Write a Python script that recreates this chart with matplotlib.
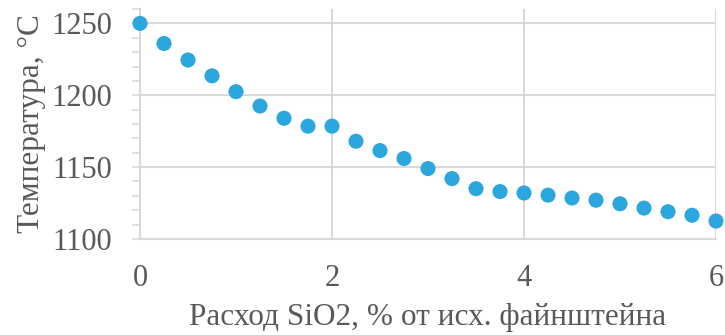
import matplotlib.pyplot as plt
from matplotlib.ticker import MultipleLocator

# data
sio2 = [0, 0.25, 0.5, 0.75, 1, 1.25, 1.5, 1.75, 2, 2.25, 2.5, 2.75, 3,
        3.25, 3.5, 3.75, 4, 4.25, 4.5, 4.75, 5, 5.25, 5.5, 5.75, 6]
temp = [1250, 1236, 1224.5, 1213.5, 1202.5, 1192.5, 1184, 1178.5, 1178.5,
        1168, 1161.5, 1156, 1149, 1142, 1135, 1133, 1132, 1130.5, 1128.5,
        1127, 1124.5, 1121.5, 1119, 1116.5, 1112.5]

grey = '#595959'
grid_c = '#D9D9D9'

plt.rcParams['font.family'] = ['Liberation Serif', 'DejaVu Serif']

fig = plt.figure(figsize=(7.25, 3.35), dpi=100)
ax = fig.add_axes([0.1931, 0.2866, 0.7945, 0.6865])

ax.scatter(sio2, temp, s=118, color='#2CA6DE', edgecolors='none', zorder=3, clip_on=False)

ax.set_xlim(0, 6)
ax.set_ylim(1100, 1260)
ax.xaxis.set_major_locator(MultipleLocator(2))
ax.yaxis.set_major_locator(MultipleLocator(50))
ax.yaxis.set_minor_locator(MultipleLocator(10))

ax.grid(True, which='major', color=grid_c, linewidth=1.5, zorder=0)
for s in ['top', 'right']:
    ax.spines[s].set_visible(False)
ax.spines['left'].set_color(grid_c)
ax.spines['bottom'].set_color(grid_c)
ax.spines['left'].set_linewidth(1.5)
ax.spines['bottom'].set_linewidth(1.5)

ax.tick_params(axis='y', which='both', direction='out', length=6, width=1.2,
               color=grid_c, labelsize=22, labelcolor=grey, pad=14)
ax.tick_params(axis='x', length=0, labelsize=22, labelcolor=grey, pad=18)

ax.set_xlabel('Расход SiO2, % от исх. файнштейна', fontsize=22.5, color=grey, labelpad=7)
ax.set_ylabel('Температура, °C', fontsize=22.5, color=grey, labelpad=4)

fig.savefig('out.png', dpi=100)
